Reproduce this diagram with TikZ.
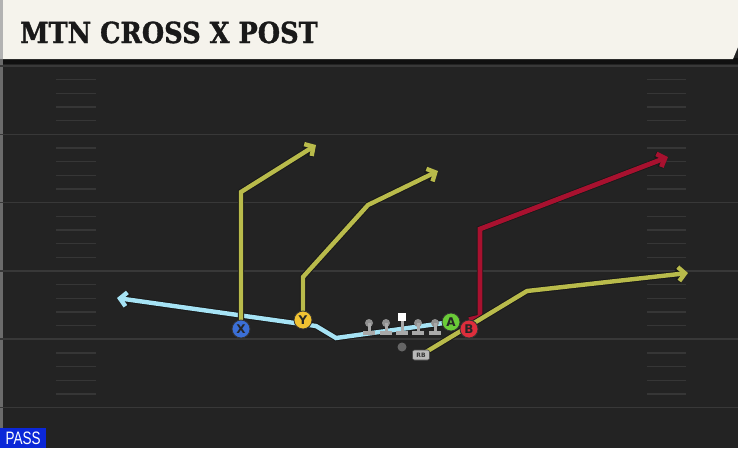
\documentclass[tikz,border=0pt]{standalone}
\usepackage{fontspec}
\setmainfont{DejaVu Sans}
\newfontfamily\titlefont[FakeStretch=0.885, FakeBold=1.2]{DejaVu Serif}
\newfontfamily\passfont[FakeStretch=0.75]{Liberation Sans}
\usetikzlibrary{arrows.meta, backgrounds}

\definecolor{FieldGray}{HTML}{232323}
\definecolor{YardLine}{HTML}{383838}
\definecolor{HashMark}{HTML}{363636}
\definecolor{BannerCream}{HTML}{F5F3EC}
\definecolor{RouteOlive}{HTML}{B9BB4B}
\definecolor{RouteRed}{HTML}{A8112F}
\definecolor{RouteSky}{HTML}{A6E3F5}
\definecolor{XBlue}{HTML}{3B6FD6}
\definecolor{YGold}{HTML}{F1C232}
\definecolor{AGreen}{HTML}{6ACB38}
\definecolor{BRed}{HTML}{DD2E3C}
\definecolor{PassBlue}{HTML}{0B27D8}
\definecolor{LineGray}{HTML}{A9A9A9}

\tikzset{
    route/.style={line width=4.4pt, -{Straight Barb[length=6.5pt, width=14pt]},
        preaction={draw=black!90, line width=6.4pt}},
    player/.style={circle, draw=black!80, line width=0.8pt, minimum size=18pt, inner sep=0pt,
        font=\bfseries\fontsize{12}{12}\selectfont, text=black!85},
}

\begin{document}
\begin{tikzpicture}[x=1pt, y=-1pt]
    \useasboundingbox (0, 0) rectangle (738, 448);

    \foreach \lx in {369, 386, 418, 435} {
        \fill[LineGray!85!black] (\lx, 323) circle (4);
        \fill[LineGray] (\lx - 1.5, 323) rectangle (\lx + 1.5, 332);
        \fill[LineGray] (\lx - 6, 331) rectangle (\lx + 6, 335);
    }
    \fill[LineGray] (400.5, 318) rectangle (403.5, 332);
    \fill[LineGray] (396, 331) rectangle (408, 335);
    \fill[white] (398, 313) rectangle (406, 321);

    \node[player, fill=XBlue] (X) at (241, 329) {X};
    \node[player, fill=YGold] (Y) at (303, 320) {Y};
    \node[player, fill=AGreen] (A) at (451, 322) {A};
    \node[player, fill=BRed] (B) at (469, 329) {B};
    \node[circle, fill=gray!80!black, minimum size=9pt, inner sep=0pt] (QB) at (402, 347) {};
    \node[rounded corners=2pt, fill=gray!55, draw=black!70, line width=0.6pt, minimum width=17pt,
        minimum height=10pt, inner sep=0pt, font=\bfseries\fontsize{6}{6}\selectfont, text=black!80]
        (RB) at (421, 355) {RB};

    \begin{scope}[on background layer]
        \fill[FieldGray] (0, 0) rectangle (738, 448);
        \fill[black!55!FieldGray] (0, 58) rectangle (738, 64);
        \fill[black!75!FieldGray!60!white] (0, 58) rectangle (2.5, 448);

        \foreach \yy in {66, 134.3, 202.6, 270.9, 339.2, 407.5}
            \draw[YardLine, line width=1.6pt] (0, \yy) -- (738, \yy);
        \foreach \s in {0, ..., 4}
            \foreach \j in {1, ..., 4} {
                \draw[HashMark, line width=1.3pt] (56, 66 + 68.3 * \s + 13.7 * \j) -- (96, 66 + 68.3 * \s + 13.7 * \j);
                \draw[HashMark, line width=1.3pt] (647, 66 + 68.3 * \s + 13.7 * \j) -- (686, 66 + 68.3 * \s + 13.7 * \j);
            }

        \fill[BannerCream] (3, 0) -- (738, 0) -- (738, 47) -- (733, 59) -- (3, 59) -- cycle;
        \fill[gray!60] (0, 0) rectangle (3, 59);
        \node[anchor=base west, text=black!90, font=\titlefont\bfseries\fontsize{29}{29}\selectfont,
            inner sep=0pt] (title) at (20, 43) {MTN CROSS X POST};

        \coordinate (skyA) at (336, 338);
        \coordinate (skyB) at (316, 326);
        \coordinate (skyEnd) at (117, 298);
        \draw[route, RouteSky] (A.center) -- (skyA) -- (skyB) -- (skyEnd);

        \coordinate (xBreak) at (241, 192);
        \coordinate (xEnd) at (316, 145);
        \draw[route, RouteOlive] (X.center) -- (xBreak) -- (xEnd);

        \coordinate (yBreak) at (303, 277);
        \coordinate (yMid) at (368, 205);
        \coordinate (yEnd) at (438, 171);
        \draw[route, RouteOlive] (Y.center) -- (yBreak) -- (yMid) -- (yEnd);

        \coordinate (bKink) at (480, 317);
        \coordinate (bBreak) at (480, 229);
        \coordinate (bEnd) at (668, 157);
        \draw[route, RouteRed, line width=4.8pt] (B.north) -- (bKink) -- (bBreak) -- (bEnd);

        \coordinate (rbBreak) at (527, 291);
        \coordinate (rbEnd) at (688, 273);
        \draw[route, RouteOlive] (RB.center) -- (rbBreak) -- (rbEnd);
    \end{scope}

    \node[anchor=south west, fill=PassBlue, text=white, minimum width=46pt, minimum height=20pt,
        inner sep=0pt, font=\passfont\fontsize{18}{18}\selectfont] (pass) at (0, 448) {PASS};
\end{tikzpicture}
\end{document}
